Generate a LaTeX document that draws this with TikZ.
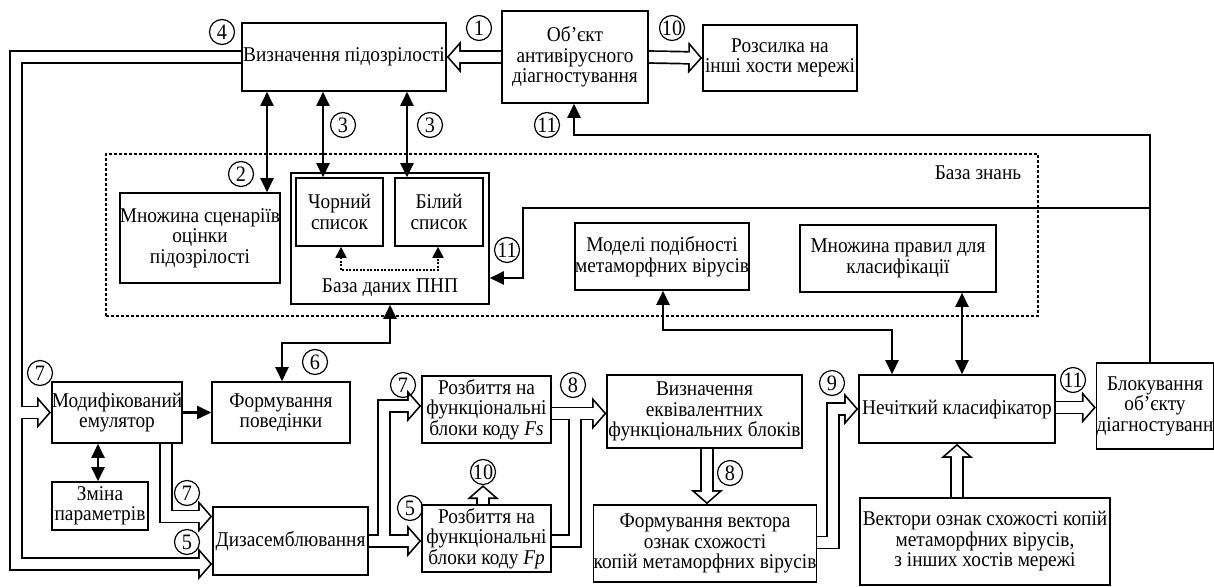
\documentclass[tikz,border=0pt]{standalone}
\usepackage{fontspec}
\setmainfont{Liberation Serif}[FakeStretch=0.92]
\usetikzlibrary{arrows.meta}
\pgfdeclarelayer{chA}
\pgfdeclarelayer{chB}
\pgfsetlayers{chA,chB,main}
\tikzset{
  box/.style={draw, line width=1.6pt, align=center, inner sep=0pt, font=\fontsize{21}{20.5}\selectfont},
  kbox/.style={draw, line width=1.4pt, dash pattern=on 3pt off 2pt, inner sep=0pt},
  num/.style={draw, circle, line width=1.2pt, minimum size=25pt, inner sep=0pt, font=\fontsize{22}{22}\selectfont},
  lbl/.style={inner sep=0pt, font=\fontsize{21}{20.5}\selectfont},
  sarr/.style={line width=2.4pt, -{Triangle[length=14pt,width=13pt]}},
  sdarr/.style={line width=2.4pt, {Triangle[length=14pt,width=13pt]}-{Triangle[length=14pt,width=13pt]}},
  dotarr/.style={line width=1.8pt, dash pattern=on 2pt off 1.5pt, {Triangle[length=11pt,width=11pt]}-{Triangle[length=11pt,width=11pt]}},
  chO/.style={line width=13.7pt, -{Triangle[length=14pt,width=32pt,line width=0pt]}},
  chI/.style={white, line width=10.3pt, shorten >=2.26pt, -{Triangle[length=10pt,width=22.9pt,line width=0pt]}},
}
\newcommand\hollowpath[1]{%
  \begin{pgfonlayer}{chA}\draw[chO] #1;\end{pgfonlayer}%
  \begin{pgfonlayer}{chB}\draw[chI] #1;\end{pgfonlayer}}
\begin{document}
\begin{tikzpicture}[x=1pt, y=-1pt]
\useasboundingbox (0,0) rectangle (1214,586);
% boxes
\node[box, minimum width=204pt, minimum height=68pt] (viz) at (344,57) {Визначення підозрілості};
\node[box, minimum width=146pt, minimum height=92pt] (obj) at (575,57) {Об’єкт\\антивірусного\\діагностування};
\node[box, minimum width=154pt, minimum height=66pt] (ros) at (780,58) {Розсилка на\\інші хости мережі};
\node[kbox, minimum width=932pt, minimum height=162pt] (kb) at (572,235) {};
\node[lbl] (kbl) at (978,173) {База знань};
\node[box, minimum width=160pt, minimum height=90pt] (mns) at (200,238) {Множина сценаріїв\\оцінки\\підозрілості};
\node[box, minimum width=198pt, minimum height=131pt] (bd) at (390,238.5) {};
\node[lbl] (bdl) at (390,288) {База даних ПНП};
\node[box, minimum width=87pt, minimum height=68pt] (chor) at (339.5,212) {Чорний\\список};
\node[box, minimum width=88pt, minimum height=68pt] (bil) at (439,212) {Білий\\список};
\node[box, minimum width=174pt, minimum height=67pt] (mod) at (662,256.5) {Моделі подібності\\метаморфних вірусів};
\node[box, minimum width=196pt, minimum height=67pt] (prav) at (898,258.5) {Множина правил для\\класифікації};
\node[box, minimum width=130pt, minimum height=61pt] (emu) at (117,412.5) {Модифікований\\емулятор};
\node[box, minimum width=138pt, minimum height=61pt] (form) at (281,412.5) {Формування\\поведінки};
\node[box, minimum width=96pt, minimum height=48pt] (zmin) at (100,506) {Зміна\\параметрів};
\node[box, minimum width=155pt, minimum height=68pt] (diz) at (290.5,541) {Дизасемблювання};
\node[box, minimum width=129pt, minimum height=67pt] (fs) at (486.5,409.5) {Розбиття на\\функціональні\\блоки коду \textit{Fs}};
\node[box, minimum width=129pt, minimum height=67pt] (fp) at (486.5,538.5) {Розбиття на\\функціональні\\блоки коду \textit{Fp}};
\node[box, minimum width=195pt, minimum height=73pt] (ekv) at (704.5,411.5) {Визначення\\еквівалентних\\функціональних блоків};
\node[box, minimum width=220pt, minimum height=77pt] (vek) at (705,543.5) {Формування вектора\\ознак схожості\\копій метаморфних вірусів};
\node[box, minimum width=196pt, minimum height=68pt] (nech) at (957,409) {Нечіткий класифікатор};
\node[box, minimum width=116pt, minimum height=86pt] (blok) at (1155,406) {Блокування\\об’єкту\\діагностуванн};
\node[box, minimum width=250pt, minimum height=87pt] (vekt) at (985,541.5) {Вектори ознак схожості копій\\метаморфних вірусів,\\з інших хостів мережі};
% numbered circles
\node[num] (n4) at (222,32) {4};
\node[num] (n1) at (479,28) {1};
\node[num] (n10a) at (672,28) {10};
\node[num] (n3a) at (343,125) {3};
\node[num] (n3b) at (430,125) {3};
\node[num] (n11a) at (547,125) {11};
\node[num] (n2) at (241,174) {2};
\node[num] (n11b) at (507,250) {11};
\node[num] (n6) at (315,362) {6};
\node[num] (n7a) at (40,373) {7};
\node[num] (n7b) at (187,493) {7};
\node[num] (n5a) at (187,542) {5};
\node[num] (n7c) at (403,385) {7};
\node[num] (n5b) at (410,508) {5};
\node[num] (n10b) at (483,472) {10};
\node[num] (n8a) at (573,385) {8};
\node[num] (n8b) at (730,473) {8};
\node[num] (n9) at (832,383) {9};
\node[num] (n11c) at (1073,380) {11};
% solid connectors
\draw[sdarr] (viz.south -| 267,0) -- (mns.north -| 267,0);
\draw[sdarr] (viz.south -| 323,0) -- (chor.north -| 323,0);
\draw[sdarr] (viz.south -| 407,0) -- (bil.north -| 407,0);
\draw[dotarr] (chor.south -| 341,0) |- (438,270) -- (bil.south -| 438,0);
\draw[sdarr] (bd.south -| 390,0) |- (282,343) -- (form.north -| 282,0);
\draw[sarr] (emu.east) -- (form.west);
\draw[sdarr] (emu.south -| 98,0) -- (zmin.north -| 98,0);
\draw[sdarr] (mod.south -| 663,0) |- (892,330) -- (nech.north -| 892,0);
\draw[sdarr] (prav.south -| 962,0) -- (nech.north -| 962,0);
\coordinate (jn) at (1150,208);
\draw[sarr] (blok.north -| 1150,0) |- (574,135) -- (obj.south -| 574,0);
\draw[sarr] (jn) -| (523,278) -- (bd.east |- 0,278);
% hollow channels
\hollowpath{(obj.west) -- (viz.east)}
\hollowpath{(obj.east) -- (ros.west)}
\hollowpath{(viz.west) -| (16,412.5) -- (emu.west)}
\hollowpath{(viz.west) -| (16,564) -- (diz.west |- 0,564)}
\hollowpath{(emu.south -| 166,0) |- (diz.west |- 0,516.5)}
\hollowpath{(diz.east) -| (384,406) -- (fs.west |- 0,406)}
\hollowpath{(diz.east) -- (fp.west |- diz.east)}
\hollowpath{(fs.east |- 0,413.5) -- (ekv.west |- 0,413.5)}
\hollowpath{(fp.east |- 0,541) -| (575,413.5) -- (ekv.west |- 0,413.5)}
\hollowpath{(fp.north -| n10b) -- (n10b.south)}
\hollowpath{(ekv.south -| 707,0) -- (vek.north -| 707,0)}
\hollowpath{(vek.east |- 0,542.5) -| (833,409) -- (nech.west)}
\hollowpath{(nech.east |- 0,407.5) -- (blok.west |- 0,407.5)}
\hollowpath{(vekt.north -| 957,0) -- (nech.south -| 957,0)}
\end{tikzpicture}
\end{document}
